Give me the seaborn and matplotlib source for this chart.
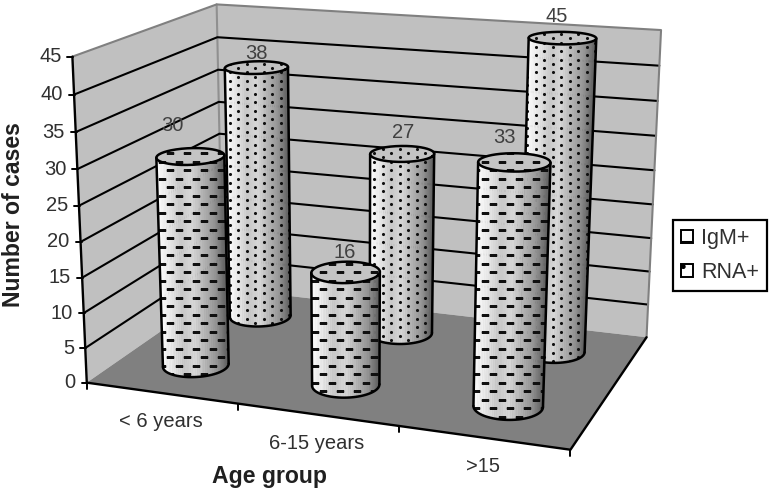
# plot.py - 3D style cylinder chart, cases per age group
import numpy as np
import pandas as pd
import matplotlib
matplotlib.use("Agg")
import matplotlib.pyplot as plt
import seaborn as sns
from matplotlib.colors import LinearSegmentedColormap
from matplotlib.patches import Patch, Polygon

# data
categories = ["< 6 years", "6-15 years", ">15"]
series_names = ["IgM+", "RNA+"]
igm_values = [30, 16, 33]
rna_values = [38, 27, 45]
z_ticks = [0, 5, 10, 15, 20, 25, 30, 35, 40, 45]

# view: box corners (x, depth, z/45) and where they fall on the canvas
box_world = [(0, 0, 0), (1, 0, 0), (1, 1, 0), (0, 1, 0), (0, 0, 1), (0, 1, 1), (1, 1, 1),
             (1 / 3, 0, 0), (2 / 3, 0, 0)]
box_pixel = [(87, 382), (570, 449), (647, 337), (222, 288), (72, 56), (217, 5), (661, 30),
             (239, 404.5), (398, 427)]

# cylinder layout in box units
x_centers = [0.163, 0.495, 0.833]
depth = {"IgM+": 0.256, "RNA+": 0.764}
radius_x = 0.067
radius_y = 0.108
label_shift = {"IgM+": [(-18, -31), (-1, -20), (-10, -25)],
               "RNA+": [(0, -14), (1, -21), (-6, -22)]}


def fit_projection(world, pixel):
    rows, rhs = [], []
    for (x, y, z), (u, v) in zip(world, pixel):
        rows.append([x, y, z, 1, 0, 0, 0, 0, -u * x, -u * y, -u * z])
        rows.append([0, 0, 0, 0, x, y, z, 1, -v * x, -v * y, -v * z])
        rhs += [u, v]
    p = np.linalg.lstsq(np.array(rows, float), np.array(rhs, float), rcond=None)[0]
    return np.append(p, 1).reshape(3, 4)


P = fit_projection(box_world, box_pixel)


def project(x, y, value):
    x, y, value = np.broadcast_arrays(x, y, value)
    w = np.stack([x, y, value / 45, np.ones_like(x, dtype=float)])
    q = P @ w
    return q[0] / q[2], q[1] / q[2]


sns.set_theme(style="white")
plt.rcParams["font.family"] = ["Liberation Sans", "DejaVu Sans"]
fig, ax = plt.subplots(figsize=(7.74, 4.93), dpi=100)
fig.subplots_adjust(0, 0, 1, 1)

shade = LinearSegmentedColormap.from_list(
    "cyl", ["#ffffff", "#e8e8e8", "#c8c8c8", "#d8d8d8", "#b4b4b4", "#949494", "#5c5c5c"])


def draw_line(us, vs, color="black", lw=1.5, zorder=3):
    sns.lineplot(x=list(us), y=list(vs), color=color, linewidth=lw, sort=False,
                 estimator=None, legend=False, zorder=zorder, ax=ax)


def face(corners, color):
    us, vs = project(*np.array(corners, float).T)
    ax.fill(us, vs, color=color, lw=0, zorder=1)


# walls and floor
face([(0, 0, 0), (0, 1, 0), (0, 1, 45), (0, 0, 45)], "#c0c0c0")
face([(0, 1, 0), (1, 1, 0), (1, 1, 45), (0, 1, 45)], "#c0c0c0")
face([(0, 0, 0), (1, 0, 0), (1, 1, 0), (0, 1, 0)], "#808080")

for tick in z_ticks[1:-1]:
    us, vs = project([0, 0, 1], [0, 1, 1], tick)
    draw_line(us, vs)
us, vs = project([0, 0, 1, 1], [0, 1, 1, 1], [45, 45, 45, 0])
draw_line(us, vs, color="#808080")
us, vs = project([0, 0], [1, 1], [0, 45])
draw_line(us, vs, color="#909090", zorder=2)

# axes lines, ticks, tick labels
us, vs = project([0, 0], [0, 0], [0, 45])
draw_line(us, vs, lw=1.7)
us, vs = project([0, 1, 1], [0, 0, 1], [0, 0, 0])
draw_line(us, vs, lw=1.7)
for tick in z_ticks:
    u, v = project(0, 0, tick)
    draw_line([u - 5, u + 1], [v, v], lw=1.4)
    ax.text(u - 11, v, str(tick), ha="right", va="center", fontsize=14.5, color="#303030")
for i in range(4):
    u, v = project(i / 3, 0, 0)
    draw_line([u, u], [v, v + 6], lw=1.4)
for i, name in enumerate(categories):
    u, v = project((i + 0.5) / 3, 0, 0)
    ax.text(u, v + 29, name, ha="center", va="center", fontsize=14.5, color="#303030")


def ring(x, y, value, n=180):
    t = np.linspace(0, 2 * np.pi, n, endpoint=False)
    us, vs = project(x + radius_x * np.cos(t), y + radius_y * np.sin(t), value)
    return us, vs


def front_arc(us, vs, n=48):
    start = np.argmin(us)
    us, vs = np.roll(us, -start), np.roll(vs, -start)
    stop = np.argmax(us)
    a = (us[:stop + 1], vs[:stop + 1])
    b = (np.append(us[stop:], us[0])[::-1], np.append(vs[stop:], vs[0])[::-1])
    arc = a if a[1].mean() > b[1].mean() else b
    pick = np.linspace(0, len(arc[0]) - 1, n + 1).astype(int)
    return arc[0][pick], arc[1][pick]


def texture(name, clip, box, zorder):
    xmin, xmax, ymin, ymax = box
    step = 8.5
    px, py = [], []
    for gx in np.arange(xmin - xmin % step, xmax + step, step):
        col = int(round(gx / step))
        for gy in np.arange(ymin - ymin % step - step, ymax + step, step):
            row = int(round(gy / step))
            if name == "RNA+":
                px.append(gx)
                py.append(gy + (col % 2) * step / 2)
            elif (col + row) % 2 == 0:
                px.append(gx)
                py.append(gy)
    table = pd.DataFrame({"u": px, "v": py})
    before = len(ax.collections)
    if name == "RNA+":
        sns.scatterplot(data=table, x="u", y="v", marker="o", s=5, color="#101010",
                        linewidth=0, zorder=zorder, legend=False, ax=ax)
    else:
        sns.scatterplot(data=table, x="u", y="v", marker="_", s=30, color="#101010",
                        linewidth=1.5, zorder=zorder, legend=False, ax=ax)
    for coll in ax.collections[before:]:
        coll.set_clip_path(clip)
        coll.set_snap(False)


def cylinder(name, x, y, value, shift, z):
    bu, bv = ring(x, y, 0)
    tu, tv = ring(x, y, value)
    fbu, fbv = front_arc(bu, bv)
    ftu, ftv = front_arc(tu, tv)
    for i in range(len(fbu) - 1):
        mid = 0.5 * (fbu[i] + fbu[i + 1])
        c = shade((mid - fbu.min()) / (fbu.max() - fbu.min()))
        ax.fill([fbu[i], fbu[i + 1], ftu[i + 1], ftu[i]], [fbv[i], fbv[i + 1], ftv[i + 1], ftv[i]],
                color=c, lw=0.4, zorder=z)
    ax.fill(tu, tv, color="#c4c4c4", lw=0, zorder=z + 0.1)
    body = Polygon(np.column_stack([np.r_[fbu, ftu[::-1]], np.r_[fbv, ftv[::-1]]]),
                   transform=ax.transData)
    top = Polygon(np.column_stack([tu, tv]), transform=ax.transData)
    box = (min(bu.min(), tu.min()), max(bu.max(), tu.max()), tv.min(), bv.max())
    texture(name, body, box, z + 0.2)
    texture(name, top, box, z + 0.2)
    draw_line(fbu, fbv, lw=1.8, zorder=z + 0.3)
    draw_line(np.append(tu, tu[0]), np.append(tv, tv[0]), lw=1.8, zorder=z + 0.3)
    draw_line([fbu[0], ftu[0]], [fbv[0], ftv[0]], lw=1.8, zorder=z + 0.3)
    draw_line([fbu[-1], ftu[-1]], [fbv[-1], ftv[-1]], lw=1.8, zorder=z + 0.3)
    cu, cv = project(x, y, value)
    ax.text(cu + shift[0], cv + shift[1], str(value), ha="center", va="center",
            fontsize=14.5, color="#404040", zorder=30)


order = 4
for name, values in (("RNA+", rna_values), ("IgM+", igm_values)):
    for i, value in enumerate(values):
        cylinder(name, x_centers[i], depth[name], value, label_shift[name][i], order)
        order += 1

# axis titles
ax.text(14, 215, "Number of cases", rotation=90, ha="center", va="center",
        fontsize=16.6, fontweight="bold", color="#202020")
ax.text(270, 476, "Age group", ha="center", va="center",
        fontsize=16.6, fontweight="bold", color="#202020")

handles = [Patch(facecolor="white", edgecolor="black", linewidth=1.4, hatch=h, label=s)
           for s, h in zip(series_names, ["-", "."])]
leg = ax.legend(handles=handles, loc="center", bbox_to_anchor=(720, 255.5), bbox_transform=ax.transData,
                fontsize=15.5, frameon=True, fancybox=False, edgecolor="black", framealpha=1,
                handlelength=0.55, handleheight=0.55, handletextpad=0.4, labelspacing=0.62,
                borderpad=0.38, borderaxespad=0)
leg.get_frame().set_linewidth(1.6)
leg.set_zorder(40)
for t in leg.get_texts():
    t.set_color("#303030")

ax.set_xlim(0, 774)
ax.set_ylim(493, 0)
ax.axis("off")
fig.savefig("out.png", dpi=100)
